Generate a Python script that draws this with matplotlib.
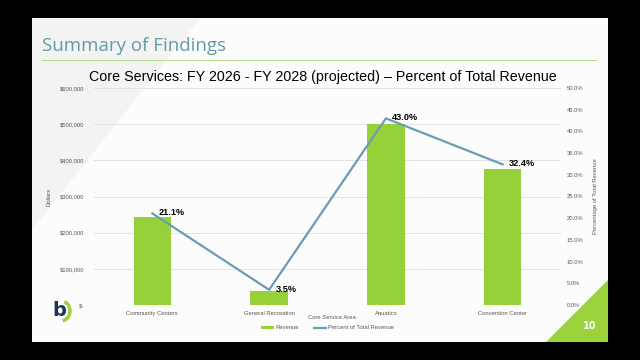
import numpy as np
import matplotlib.pyplot as plt
from matplotlib.patches import Rectangle, Polygon, Arc

categories = ["Community Centers", "General Recreation", "Aquatics", "Convention Center"]
revenue = [244000, 40000, 500000, 376000]
percent = [21.1, 3.5, 43.0, 32.4]

dollar_ticks = [0, 100000, 200000, 300000, 400000, 500000, 600000]
dollar_labels = ["$-", "$100,000", "$200,000", "$300,000", "$400,000", "$500,000", "$600,000"]
pct_ticks = [0, 5, 10, 15, 20, 25, 30, 35, 40, 45, 50]

bar_color = "#96d13a"
line_color = "#6a9db3"
tick_color = "#595959"

fig = plt.figure(figsize=(6.4, 3.6), dpi=100, facecolor="black")

# slide background drawn in pixel coordinates
bg = fig.add_axes([0, 0, 1, 1], zorder=0)
bg.set_xlim(0, 640)
bg.set_ylim(360, 0)
bg.axis("off")
bg.add_patch(Rectangle((32, 18), 576, 324, facecolor="#fcfcfc", edgecolor="none"))
bg.add_patch(Polygon([(32, 18), (200, 18), (32, 230)], facecolor="#f3f3f3", edgecolor="none"))
bg.add_patch(Polygon([(608, 280), (608, 342), (546, 342)], facecolor="#9bd13a", edgecolor="none"))
bg.text(590, 326, "10", color="white", fontsize=7, fontweight="bold", ha="center", va="center")
bg.text(42, 46, "Summary of Findings", color="#5f9ea6", fontsize=13.5, family="Open Sans",
        ha="left", va="center")
bg.plot([42, 596], [60, 60], color="#b9dc8e", lw=0.8)
bg.text(59, 311, "b", color="#1d3557", fontsize=14, fontweight="bold", ha="center", va="center",
        family="DejaVu Sans")
bg.add_patch(Arc((61, 311), 18, 20, theta1=-70, theta2=80, color="#9bd13a", lw=2.5))
bg.text(323, 77, "Core Services: FY 2026 - FY 2028 (projected) \u2013 Percent of Total Revenue",
        fontsize=10.3, family="Liberation Sans", ha="center", va="center", color="black")

ax = fig.add_axes([94 / 640, 1 - 305 / 360, 467 / 640, 217 / 360], zorder=1)
ax.patch.set_visible(False)
x = np.arange(len(categories))
bars = ax.bar(x, revenue, width=0.32, color=bar_color, label="Revenue", zorder=2)
ax.set_xlim(-0.5, 3.5)
ax.set_ylim(0, 600000)
ax.set_yticks(dollar_ticks)
ax.set_yticklabels(dollar_labels)
ax.set_xticks(x)
ax.set_xticklabels(categories)
ax.grid(axis="y", color="#e2e2e2", lw=0.7, zorder=0)
ax.set_axisbelow(True)
for s in ax.spines.values():
    s.set_visible(False)
ax.tick_params(length=0, labelsize=4.2, colors=tick_color, labelfontfamily="Liberation Sans")
ax.tick_params(axis="y", pad=7)
ax.tick_params(axis="x", pad=4)
ax.set_ylabel("Dollars", fontsize=4.2, color=tick_color, family="Liberation Sans", labelpad=6)
ax.set_xlabel("Core Service Area", fontsize=4.2, color=tick_color, family="Liberation Sans")
ax.xaxis.set_label_coords(0.51, -0.045)

ax2 = ax.twinx()
ax2.patch.set_visible(False)
line, = ax2.plot(x, percent, color=line_color, lw=1.6, label="Percent of Total Revenue", zorder=3)
ax2.set_ylim(0, 50)
ax2.set_yticks(pct_ticks)
ax2.set_yticklabels([f"{t:.1f}%" for t in pct_ticks])
for s in ax2.spines.values():
    s.set_visible(False)
ax2.tick_params(length=0, labelsize=4.2, colors=tick_color, pad=4,
                labelfontfamily="Liberation Sans")
ax2.set_ylabel("Percentage of Total Revenue", fontsize=4.2, color=tick_color,
               family="Liberation Sans", labelpad=7)
for xi, p in zip(x, percent):
    ax2.annotate(f"{p:.1f}%", (xi, p), xytext=(4.5, 0.5), textcoords="offset points",
                 fontsize=6.6, fontweight="bold", family="Liberation Sans", va="center", ha="left")

leg = ax.legend([bars, line], ["Revenue", "Percent of Total Revenue"], loc="upper center",
                bbox_to_anchor=(0.5, -0.07), ncol=2, frameon=False,
                prop={"family": "Liberation Sans", "size": 4.2}, handlelength=2.2,
                handleheight=0.5, columnspacing=2.5, handletextpad=0.3)
for t in leg.get_texts():
    t.set_color(tick_color)

fig.savefig("out.png", dpi=100, facecolor="black")
